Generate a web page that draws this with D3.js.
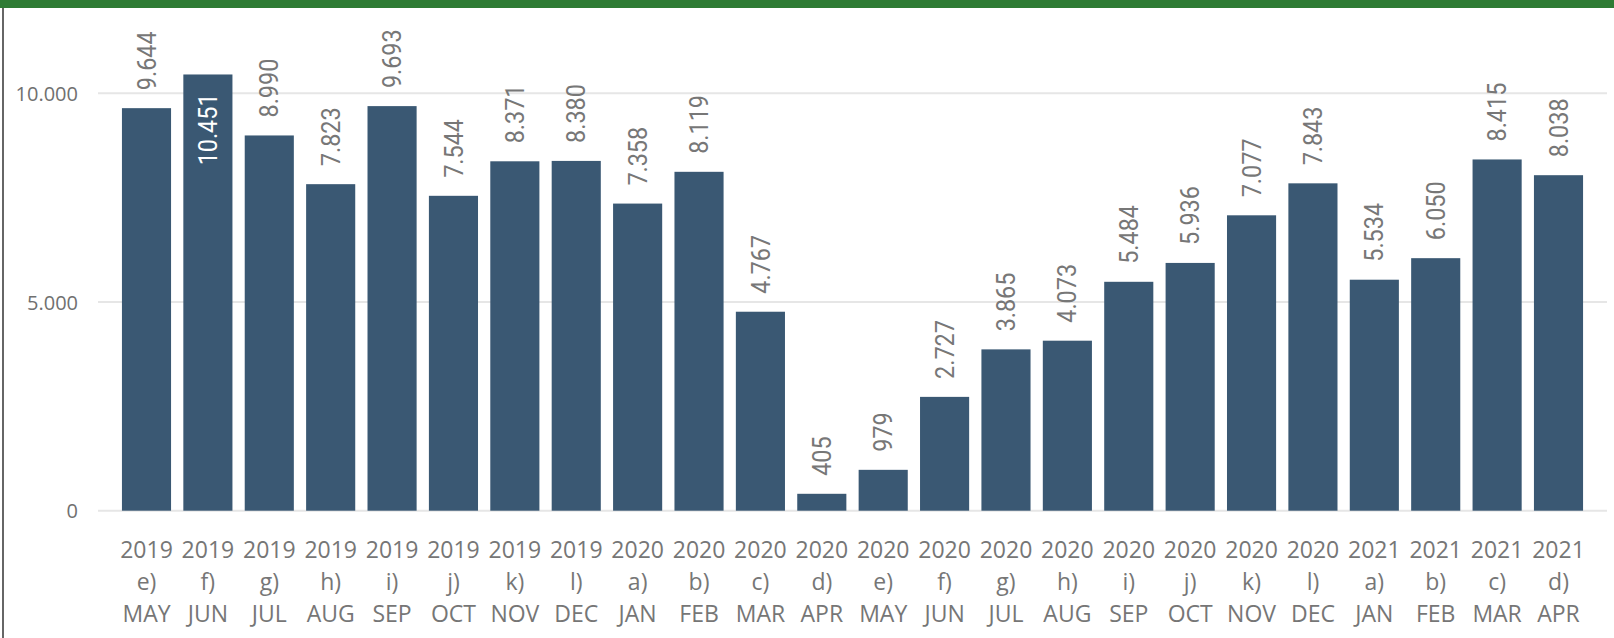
<!DOCTYPE html>
<html>
<head>
<meta charset="utf-8">
<script src="https://cdn.jsdelivr.net/npm/d3@7"></script>
<style>
  html, body { margin: 0; padding: 0; background: #fff; }
  svg { display: block; }
</style>
</head>
<body>
<svg id="chart" width="1614" height="638"></svg>
<script>
const years   = ["2019","2019","2019","2019","2019","2019","2019","2019","2020","2020","2020","2020","2020","2020","2020","2020","2020","2020","2020","2020","2021","2021","2021","2021"];
const letters = ["e)","f)","g)","h)","i)","j)","k)","l)","a)","b)","c)","d)","e)","f)","g)","h)","i)","j)","k)","l)","a)","b)","c)","d)"];
const months  = ["MAY","JUN","JUL","AUG","SEP","OCT","NOV","DEC","JAN","FEB","MAR","APR","MAY","JUN","JUL","AUG","SEP","OCT","NOV","DEC","JAN","FEB","MAR","APR"];
const values  = [9644,10451,8990,7823,9693,7544,8371,8380,7358,8119,4767,405,979,2727,3865,4073,5484,5936,7077,7843,5534,6050,8415,8038];
const yTicks  = [0,5000,10000];

const W = 1614, H = 638;
const svg = d3.select("#chart");
const locale = d3.formatLocale({decimal: ",", thousands: ".", grouping: [3], currency: ["", ""]});
const fmt = locale.format(",d");

// frame
svg.append("rect").attr("x",0).attr("y",0).attr("width",W).attr("height",8).attr("fill","#2e7b34");
svg.append("rect").attr("x",2).attr("y",8).attr("width",2).attr("height",H-8).attr("fill","#666");

const keys = values.map((d,i)=>i);
const x = d3.scaleBand().domain(keys).range([98,1607]).paddingInner(0.2).paddingOuter(0.39);
const y = d3.scaleLinear().domain([0,10000]).range([510.7,93.3]);

// gridlines
svg.append("g").selectAll("line").data(yTicks).join("line")
  .attr("x1",98).attr("x2",1607)
  .attr("y1",d=>y(d)).attr("y2",d=>y(d))
  .attr("stroke","#e6e6e6").attr("stroke-width",2);

// y axis labels
const yAxis = d3.axisLeft(y).tickValues(yTicks).tickFormat(fmt).tickSize(0).tickPadding(0);
const gy = svg.append("g").attr("transform","translate(78,0)").call(yAxis);
gy.select(".domain").remove();
gy.selectAll("text").attr("font-family","'Open Sans', 'Noto Sans', sans-serif")
  .attr("font-size",20).attr("fill","#707070").attr("dy","0.35em");

// bars
svg.append("g").selectAll("rect").data(values).join("rect")
  .attr("x",(d,i)=>x(i)).attr("width",x.bandwidth())
  .attr("y",d=>y(d)).attr("height",d=>y(0)-y(d))
  .attr("fill","#3a5873");

// data labels
const lab = svg.append("g").selectAll("text").data(values).join("text")
  .text(d=>fmt(d))
  .attr("font-family","Roboto, sans-serif").attr("font-size",26)
  .attr("dy","0.35em");
lab.each(function(d,i){
  const t = d3.select(this);
  const len = this.getComputedTextLength()*0.9;
  const cx = x(i)+x.bandwidth()/2;
  const top = y(d);
  if (top - 18 - len < 14) {
    t.attr("text-anchor","end").attr("fill","#ffffff")
     .attr("transform",`translate(${cx},${top+19}) rotate(-90) scale(0.9,1)`);
  } else {
    t.attr("text-anchor","start").attr("fill","#777777")
     .attr("transform",`translate(${cx},${top-18}) rotate(-90) scale(0.9,1)`);
  }
});

// x axis labels (three lines)
const xl = svg.append("g").selectAll("text").data(keys).join("text")
  .attr("text-anchor","middle")
  .attr("font-family","'Open Sans', 'Noto Sans', sans-serif")
  .attr("font-size",23).attr("fill","#767676")
  .attr("transform",i=>`translate(${x(i)+x.bandwidth()/2},0)`);
xl.append("tspan").attr("x",0).attr("y",558).text(i=>years[i]);
xl.append("tspan").attr("x",0).attr("y",590).text(i=>letters[i]);
xl.append("tspan").attr("x",0).attr("y",622).text(i=>months[i]);
</script>
</body>
</html>
